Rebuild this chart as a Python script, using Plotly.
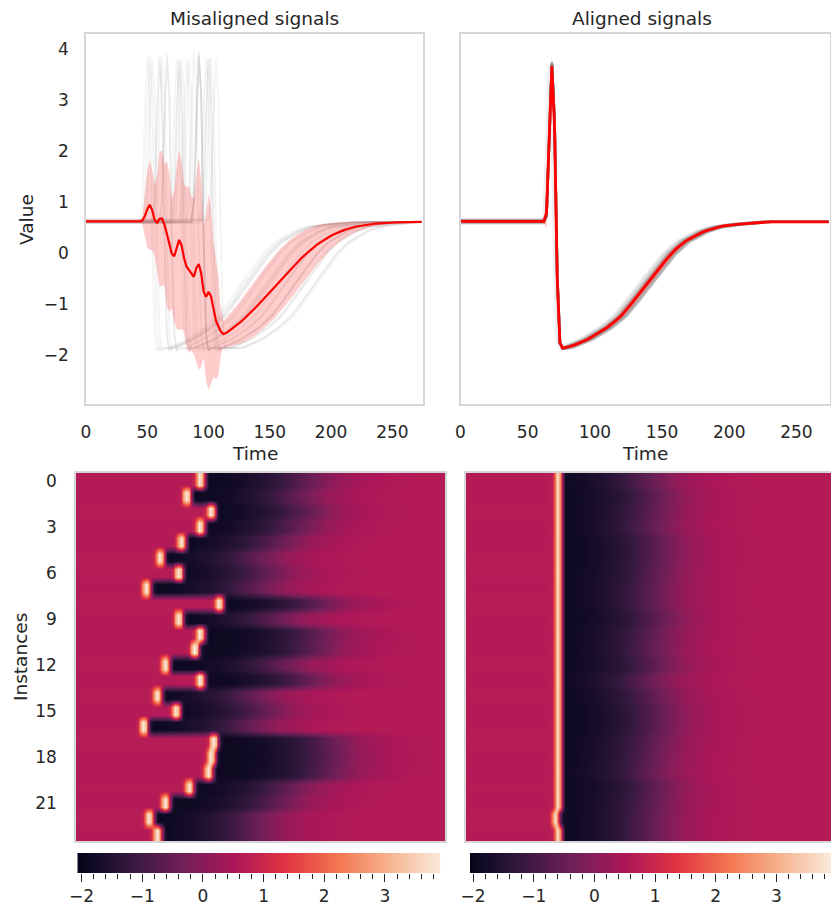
import numpy as np
import plotly.graph_objects as go

W, H = 831, 908
FONT = "DejaVu Sans"
INK = "#262626"
BORDER = "#d6d6d6"

# sample step of every signal (time units)
STEP = 2
N = 138
TIME = list(range(0, N * STEP, STEP))

# spike peak time of each instance in the misaligned signals
SPIKE_TIME = [92, 82, 100, 92, 78, 62, 76, 52, 106, 76, 92, 88, 66, 92, 60, 74, 50, 102, 100, 98, 84, 66, 54, 60]
# peak height of each instance
SPIKE_PEAK = [3.85, 3.78, 3.82, 3.9, 3.8, 3.84, 3.76, 3.86, 3.8, 3.78, 3.88, 3.94, 3.84, 3.96, 3.8, 3.78,
              3.86, 3.82, 3.8, 3.84, 3.78, 3.9, 3.82, 3.86]
# time by which recovery lags (+) or leads (-) the spike in the misaligned signals
RECOVERY_LAG = [6, 8, -2, -2, -2, -2, -8, 8, 0, -2, 14, 16, 12, 6, -4, -8, 4, 12, 16, 16, 0, 10, 4, -2]
# baseline level of each instance
BASELINE = [0.62, 0.6, 0.64, 0.61, 0.59, 0.65, 0.63, 0.6, 0.65, 0.62, 0.59, 0.61, 0.64, 0.6, 0.63, 0.59,
            0.62, 0.65, 0.61, 0.59, 0.63, 0.6, 0.64, 0.62]

# aligned signals: spike peak time and recovery lag
ALIGNED_PEAK = [68, 68, 68, 68, 68, 68, 68, 68, 68, 68, 68, 68, 68, 68, 68, 68, 68, 68, 68, 68, 68, 68, 66, 68]
ALIGNED_LAG = [-4, 2, 0, -2, 4, 4, 2, 0, 0, 4, 0, -2, 2, -6, 0, 4, 4, 0, -2, -4, 2, 0, 0, -2]
ALIGNED_PEAK_HT = [3.72, 3.68, 3.7, 3.74, 3.66, 3.7, 3.76, 3.7, 3.64, 3.68, 3.72, 3.7, 3.66, 3.74, 3.7, 3.68,
                   3.72, 3.7, 3.66, 3.72, 3.7, 3.74, 3.68, 3.7]

# spike shapes, time 64..74, with the peak between rise and fall
ALIGNED_RISE = [0.72, 2.2]
ALIGNED_FALL = [2.6, -0.45, -1.76]
SPIKE_RISE = [1.0, 2.7]
SPIKE_FALL = [3.1, 0.3, -1.6, -1.92]
# recovery shape from time 76 in steps of 2
RECOVERY = [-1.87, -1.86, -1.85, -1.83, -1.81, -1.79, -1.77, -1.75, -1.73, -1.70, -1.67, -1.64, -1.61, -1.58,
            -1.55, -1.52, -1.48, -1.44, -1.40, -1.36, -1.32, -1.27, -1.22, -1.16, -1.10, -1.03, -0.96, -0.90,
            -0.83, -0.76, -0.69, -0.62, -0.55, -0.49, -0.42, -0.36, -0.29, -0.23, -0.16, -0.10, -0.03, 0.02,
            0.07, 0.12, 0.17, 0.21, 0.24, 0.27, 0.30, 0.33, 0.36, 0.39, 0.41, 0.43, 0.45, 0.46, 0.48, 0.50,
            0.51, 0.52, 0.53, 0.54, 0.545, 0.55, 0.555, 0.56, 0.565, 0.57, 0.575, 0.58, 0.585, 0.59, 0.595, 0.60]
TAIL = 0.61

# rocket colour map stops
ROCKET = ["#03051a", "#35193e", "#701f57", "#ad1759", "#e13342", "#f37651", "#f6b48f", "#faebdd"]
VMIN, VMAX = -2.07, 3.92

Y_TICKS = [-2, -1, 0, 1, 2, 3, 4]
X_TICKS = [0, 50, 100, 150, 200, 250]
ROW_TICKS = [0, 3, 6, 9, 12, 15, 18, 21]
BAR_TICKS = [-2, -1, 0, 1, 2, 3]


def assemble(peak_t, peak_h, lag, base, rise, fall):
    lead = (peak_t - 68 + 64) // STEP
    row = [base] * lead + rise + [peak_h] + fall
    if lag >= 0:
        row += [RECOVERY[0]] * (lag // STEP)
        row += RECOVERY
    else:
        row += RECOVERY[(-lag) // STEP:]
    row += [TAIL] * N
    return row[:N]


mis = np.array([assemble(t, p, l, b, SPIKE_RISE, SPIKE_FALL)
                for t, p, l, b in zip(SPIKE_TIME, SPIKE_PEAK, RECOVERY_LAG, BASELINE)])
ali = np.array([assemble(t, p, l, b, ALIGNED_RISE, ALIGNED_FALL)
                for t, p, l, b in zip(ALIGNED_PEAK, ALIGNED_PEAK_HT, ALIGNED_LAG, BASELINE)])
rows = list(range(len(SPIKE_TIME)))

# soften transitions between rows: each row drawn as two sub-rows
SUB = 2
fine_y = [r + (j + 0.5) / SUB - 0.5 for r in rows for j in range(SUB)]
mis_z = np.repeat(mis, SUB, axis=0)
ali_z = np.repeat(ali, SUB, axis=0)


def dom(a, b, size):
    return [a / size, b / size]


def ydom(top, bottom):
    return [1 - bottom / H, 1 - top / H]


fig = go.Figure()
scale = [[i / (len(ROCKET) - 1), c] for i, c in enumerate(ROCKET)]


def add_lines(matrix, xa, ya, grey, grey_w, red_w, band):
    for r in matrix:
        fig.add_trace(go.Scatter(x=TIME, y=r.tolist(), mode="lines", xaxis=xa, yaxis=ya, showlegend=False,
                                 line=dict(color=grey, width=grey_w), hoverinfo="skip"))
    m, s = matrix.mean(axis=0), matrix.std(axis=0)
    fig.add_trace(go.Scatter(x=TIME, y=(m + s).tolist(), mode="lines", xaxis=xa, yaxis=ya, showlegend=False,
                             line=dict(width=0), hoverinfo="skip"))
    fig.add_trace(go.Scatter(x=TIME, y=(m - s).tolist(), mode="lines", xaxis=xa, yaxis=ya, showlegend=False,
                             line=dict(width=0), fill="tonexty", fillcolor=band, hoverinfo="skip"))
    fig.add_trace(go.Scatter(x=TIME, y=m.tolist(), mode="lines", xaxis=xa, yaxis=ya, showlegend=False,
                             line=dict(color="#ff0000", width=red_w)))


add_lines(mis, "x", "y", "rgba(128,128,128,0.085)", 1.8, 2.2, "rgba(255,0,0,0.2)")
add_lines(ali, "x2", "y2", "rgba(128,128,128,0.14)", 2.6, 2.8, "rgba(255,0,0,0.2)")

for z, xa, ya in [(mis_z, "x3", "y3"), (ali_z, "x4", "y4")]:
    fig.add_trace(go.Heatmap(x=TIME, y=fine_y, z=z.tolist(), xaxis=xa, yaxis=ya, colorscale=scale,
                             zmin=VMIN, zmax=VMAX, zsmooth="best", showscale=False))

bar_vals = np.linspace(VMIN, VMAX, 300).tolist()
for xa, ya in [("x5", "y5"), ("x6", "y6")]:
    fig.add_trace(go.Heatmap(x=bar_vals, y=[0, 1], z=[bar_vals, bar_vals], xaxis=xa, yaxis=ya, colorscale=scale,
                             zmin=VMIN, zmax=VMAX, zsmooth="best", showscale=False, hoverinfo="skip"))

tick_font = dict(family=FONT, size=17, color=INK)
title_font = dict(family=FONT, size=18.5, color=INK)
frame = dict(showline=True, mirror=True, linecolor=BORDER, linewidth=1.6, showgrid=False, zeroline=False,
             automargin=False)
blank_tick = dict(ticks="outside", ticklen=12, tickcolor="rgba(0,0,0,0)", tickfont=tick_font)
YR = [-2.96, 4.29]


def label(text, x, y, angle=0):
    return dict(text=text, x=x / W, y=1 - y / H, xref="paper", yref="paper", showarrow=False, font=title_font,
                textangle=angle, xanchor="center", yanchor="middle")


fig.update_layout(
    template=None,
    width=W, height=H, autosize=False, margin=dict(l=0, r=0, t=0, b=0),
    paper_bgcolor="white", plot_bgcolor="white", showlegend=False,
    font=dict(family=FONT, color=INK),
    xaxis=dict(domain=dom(86, 423, W), range=[0, 275], tickvals=X_TICKS, anchor="y", **frame, **blank_tick),
    yaxis=dict(domain=ydom(34, 404), range=YR, tickvals=Y_TICKS, anchor="x", **frame, **blank_tick),
    xaxis2=dict(domain=dom(460.5, 830, W), range=[0, 275], tickvals=X_TICKS, anchor="y2", **frame, **blank_tick),
    yaxis2=dict(domain=ydom(34, 404), range=YR, showticklabels=False, ticks="", anchor="x2", **frame),
    xaxis3=dict(domain=dom(76, 445, W), range=[0, 275], showticklabels=False, ticks="", anchor="y3", **frame),
    yaxis3=dict(domain=ydom(473, 841), range=[23.5, -0.5], tickvals=ROW_TICKS, anchor="x3", **frame,
                ticks="outside", ticklen=14, tickcolor="rgba(0,0,0,0)", tickfont=tick_font),
    xaxis4=dict(domain=dom(466, 831, W), range=[0, 272], showticklabels=False, ticks="", anchor="y4", **frame),
    yaxis4=dict(domain=ydom(473, 841), range=[23.5, -0.5], showticklabels=False, ticks="", anchor="x4", **frame),
    annotations=[
        label("Misaligned signals", 255, 18),
        label("Aligned signals", 642, 18),
        label("Time", 254.5, 453),
        label("Time", 645, 453),
        label("Value", 27, 219, -90),
        label("Instances", 20, 657, -90),
    ],
)

bar_axis = dict(showgrid=False, zeroline=False, tickvals=BAR_TICKS, ticks="outside", ticklen=8, tickwidth=1.3,
                tickcolor=INK, tickfont=tick_font, automargin=False,
                minor=dict(tickmode="linear", tick0=-2, dtick=0.2, ticks="outside", ticklen=4.5, tickwidth=1.2, tickcolor=INK))
fig.update_layout(
    xaxis5=dict(domain=dom(77.3, 440.7, W), range=[VMIN, VMAX], anchor="y5", **bar_axis),
    yaxis5=dict(domain=ydom(853, 873), range=[0, 1], visible=False, anchor="x5"),
    xaxis6=dict(domain=dom(470, 831, W), range=[-2.05, 3.9], anchor="y6", **bar_axis),
    yaxis6=dict(domain=ydom(853, 873), range=[0, 1], visible=False, anchor="x6"),
)

fig.write_html("out.html", config=dict(displayModeBar=False),
               post_script="document.body.style.margin='0';document.body.style.overflow='hidden';")
